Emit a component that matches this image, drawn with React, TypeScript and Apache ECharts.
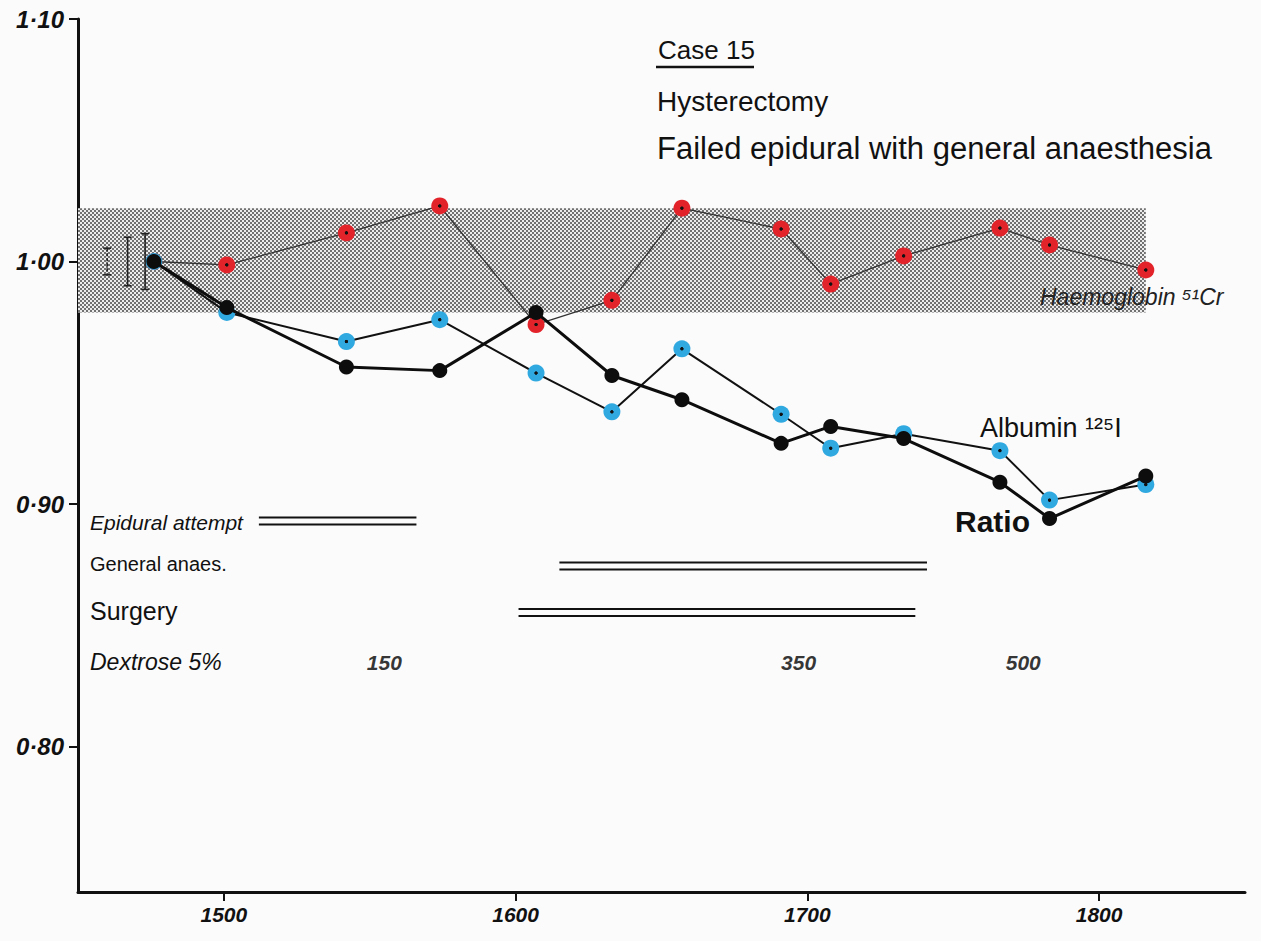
import React, { useEffect, useRef } from "react";
import * as echarts from "echarts";

// ---- data ----
const times = [1476, 1501, 1542, 1574, 1607, 1633, 1657, 1691, 1708, 1733, 1766, 1783, 1816];
const ratio = [1.0, 0.981, 0.9565, 0.955, 0.979, 0.953, 0.943, 0.925, 0.932, 0.927, 0.909, 0.894, 0.9115];
const albumin = [1.0, 0.979, 0.967, 0.976, 0.954, 0.938, 0.964, 0.937, 0.923, 0.929, 0.922, 0.9016, 0.908];
const haemoglobin = [1.0, 0.9986, 1.0118, 1.0229, 0.974, 0.984, 1.022, 1.0134, 0.9907, 1.0023, 1.0138, 1.0068, 0.9965];

const bandX = [1450, 1816];
const bandY = [0.979, 1.022];

const errX = [1460, 1467, 1473];
const errCentre = [1.0, 1.0, 1.0];
const errHalf = [0.0055, 0.01, 0.0115];

const phaseNames = ["Epidural attempt", "General anaes.", "Surgery"];
const phaseStart = [1512, 1615, 1601];
const phaseEnd = [1566, 1741, 1737];
const phaseRow = [0.893, 0.8744, 0.8553];

const dextroseTime = [1555, 1697, 1774];
const dextroseAmount = ["150", "350", "500"];
const dextroseRow = [0.8348, 0.8348, 0.8348];

const xTicks = [1500, 1600, 1700, 1800];
const yTicks = [0.8, 0.9, 1.0, 1.1];

const RED = "#e3232a";
const BLUE = "#30a8e0";

function dotFill(c: string) {
  return {
    type: "radial",
    x: 0.5,
    y: 0.5,
    r: 0.5,
    colorStops: [
      { offset: 0, color: "#111" },
      { offset: 0.16, color: "#111" },
      { offset: 0.24, color: c },
      { offset: 1, color: c },
    ],
  };
}

export default function App() {
  const ref = useRef<HTMLDivElement>(null);
  useEffect(() => {
    if (!ref.current) return;
    const chart = echarts.init(ref.current, undefined, { renderer: "svg" });

    const tile = document.createElement("canvas");
    tile.width = 4;
    tile.height = 4;
    const ctx = tile.getContext("2d");
    if (ctx) {
      ctx.fillStyle = "#ececec";
      ctx.fillRect(0, 0, 4, 4);
      ctx.fillStyle = "#707070";
      ctx.fillRect(0, 0, 2, 2);
      ctx.fillRect(2, 2, 2, 2);
    }

    const hand = "'Liberation Sans', 'DejaVu Sans', sans-serif";

    const xy = (ys: number[]) => times.map((t, i) => [t, ys[i]]);

    const txt = (x: number, y: number, text: string, extra: any) => ({
      type: "text",
      x,
      y,
      z: 100,
      style: { text, fontFamily: hand, fill: "#111", verticalAlign: "middle", ...extra },
    });

    const option: any = {
      animation: false,
      backgroundColor: "#fbfbfb",
      grid: { left: 78, right: 16, top: 19, bottom: 49 },
      xAxis: {
        type: "value",
        min: 1450,
        max: 1850,
        axisLine: { show: true, lineStyle: { color: "#111", width: 3 } },
        axisTick: { show: true, customValues: xTicks, length: 9, lineStyle: { color: "#111", width: 2 } },
        axisLabel: {
          customValues: xTicks,
          color: "#111",
          fontSize: 21,
          fontStyle: "italic",
          fontWeight: "bold",
          fontFamily: hand,
          margin: 12,
          formatter: (v: number) => String(Math.round(v)),
        },
        splitLine: { show: false },
      },
      yAxis: {
        type: "value",
        min: 0.74,
        max: 1.1,
        axisLine: { show: true, lineStyle: { color: "#111", width: 3 } },
        axisTick: { show: true, customValues: yTicks, length: 9, lineStyle: { color: "#111", width: 2 } },
        axisLabel: {
          customValues: yTicks,
          color: "#111",
          fontSize: 24,
          fontStyle: "italic",
          fontWeight: "bold",
          fontFamily: hand,
          margin: 14,
          formatter: (v: number) => v.toFixed(2).replace(".", "·"),
        },
        splitLine: { show: false },
      },
      series: [
        {
          name: "Haemoglobin 51Cr",
          type: "line",
          data: xy(haemoglobin),
          z: 3,
          symbol: "circle",
          symbolSize: 17,
          itemStyle: { color: dotFill(RED) },
          lineStyle: { color: "#333", width: 1.3 },
          markArea: {
            silent: true,
            z: 1,
            itemStyle: { color: { image: tile, repeat: "repeat" } },
            data: [[{ xAxis: bandX[0], yAxis: bandY[1] }, { xAxis: bandX[1], yAxis: bandY[0] }]],
          },
        },
        {
          name: "Albumin 125I",
          type: "line",
          data: xy(albumin),
          z: 4,
          symbol: "circle",
          symbolSize: 17,
          itemStyle: { color: dotFill(BLUE) },
          lineStyle: { color: "#111", width: 2 },
        },
        {
          name: "Ratio",
          type: "line",
          data: xy(ratio),
          z: 5,
          symbol: "circle",
          symbolSize: 15,
          itemStyle: { color: "#0d0d0d" },
          lineStyle: { color: "#0d0d0d", width: 3 },
        },
        {
          name: "errors",
          type: "custom",
          z: 6,
          data: errX.map((x, i) => [x, errCentre[i], errHalf[i]]),
          renderItem: (params: any, api: any) => {
            const x = api.value(0);
            const c = api.value(1);
            const h = api.value(2);
            const top = api.coord([x, c + h]);
            const bot = api.coord([x, c - h]);
            const style = {
              stroke: "#222",
              lineWidth: 1.6,
              lineDash: params.dataIndex === 0 ? [3, 2] : null,
            };
            return {
              type: "group",
              children: [
                { type: "line", shape: { x1: top[0], y1: top[1], x2: bot[0], y2: bot[1] }, style },
                { type: "line", shape: { x1: top[0] - 4, y1: top[1], x2: top[0] + 4, y2: top[1] }, style: { stroke: "#222", lineWidth: 1.6 } },
                { type: "line", shape: { x1: bot[0] - 4, y1: bot[1], x2: bot[0] + 4, y2: bot[1] }, style: { stroke: "#222", lineWidth: 1.6 } },
              ],
            };
          },
        },
        {
          name: "phases",
          type: "custom",
          z: 6,
          data: phaseStart.map((s, i) => [s, phaseEnd[i], phaseRow[i]]),
          renderItem: (params: any, api: any) => {
            const a = api.coord([api.value(0), api.value(2)]);
            const b = api.coord([api.value(1), api.value(2)]);
            const st = { stroke: "#111", lineWidth: 2 };
            return {
              type: "group",
              children: [
                { type: "line", shape: { x1: a[0], y1: a[1] - 3.5, x2: b[0], y2: b[1] - 3.5 }, style: st },
                { type: "line", shape: { x1: a[0], y1: a[1] + 3.5, x2: b[0], y2: b[1] + 3.5 }, style: st },
              ],
            };
          },
        },
        {
          name: "dextrose",
          type: "scatter",
          z: 6,
          symbolSize: 1,
          itemStyle: { color: "rgba(0,0,0,0)" },
          data: dextroseTime.map((t, i) => ({ value: [t, dextroseRow[i]], name: dextroseAmount[i] })),
          label: {
            show: true,
            position: "inside",
            formatter: (p: any) => p.name,
            color: "#000",
            textBorderWidth: 0,
            fontSize: 21,
            fontStyle: "italic",
            fontWeight: "bold",
            fontFamily: hand,
          },
        },
      ],
      graphic: [
        txt(658, 50, "Case 15", { fontSize: 26 }),
        { type: "line", z: 100, shape: { x1: 656, y1: 67, x2: 754, y2: 67 }, style: { stroke: "#111", lineWidth: 2.5 } },
        txt(657, 101, "Hysterectomy", { fontSize: 28 }),
        txt(657, 148, "Failed epidural with general anaesthesia", { fontSize: 31 }),
        txt(1040, 297, "Haemoglobin ⁵¹Cr", { fontSize: 23, fontStyle: "italic", fill: "#222" }),
        txt(980, 428, "Albumin ¹²⁵I", { fontSize: 27 }),
        txt(955, 521, "Ratio", { fontSize: 30, fontWeight: "bold" }),
        txt(90, 522, phaseNames[0], { fontSize: 21, fontStyle: "italic" }),
        txt(90, 564, phaseNames[1], { fontSize: 20 }),
        txt(90, 611, phaseNames[2], { fontSize: 25 }),
        txt(90, 662, "Dextrose 5%", { fontSize: 23, fontStyle: "italic" }),
      ],
    };

    chart.setOption(option);
    return () => chart.dispose();
  }, []);

  return <div ref={ref} style={{ position: "fixed", left: 0, top: 0, width: 1261, height: 941 }} />;
}
